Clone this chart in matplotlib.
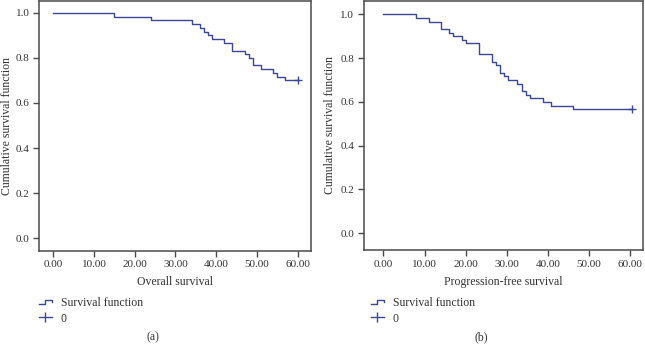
import matplotlib
matplotlib.use("Agg")
import matplotlib.pyplot as plt
from matplotlib.legend_handler import HandlerBase
from matplotlib.lines import Line2D

# --- DATA ---
# Overall survival: event times (months) and cumulative survival after each step
os_times = [0, 15, 24, 34, 36, 37, 38, 39, 42, 44, 47, 48, 49, 51, 54, 55, 57, 60.2]
os_surv = [1.0, 0.983, 0.967, 0.950, 0.933, 0.917, 0.900, 0.883, 0.867, 0.833,
           0.817, 0.800, 0.767, 0.750, 0.733, 0.717, 0.700, 0.700]

# Progression-free survival
pfs_times = [0, 8, 11, 14, 16, 17, 19, 20, 23.3, 26.4, 27.4, 28.4, 29.4, 30.4,
             32.6, 33.6, 34.6, 35.6, 38.7, 40.8, 46, 60.4]
pfs_surv = [1.0, 0.983, 0.967, 0.933, 0.917, 0.900, 0.883, 0.867, 0.817, 0.783,
            0.767, 0.733, 0.717, 0.700, 0.683, 0.650, 0.633, 0.617, 0.600, 0.583,
            0.567, 0.567]

x_ticks = [0, 10, 20, 30, 40, 50, 60]
x_ticklabels = ["0.00", "10.00", "20.00", "30.00", "40.00", "50.00", "60.00"]
y_ticks = [0.0, 0.2, 0.4, 0.6, 0.8, 1.0]
y_ticklabels = ["0.0", "0.2", "0.4", "0.6", "0.8", "1.0"]

LINE = "#3c4696"
SPINE = "#4a4a4a"
TXT = "#333333"
FS_TICK = 8
FS_LAB = 8.5

plt.rcParams["font.family"] = ["Liberation Serif", "DejaVu Serif"]


class StepHandler(HandlerBase):
    # small step glyph used by the "Survival function" legend entry
    def create_artists(self, legend, orig_handle, xdescent, ydescent,
                       width, height, fontsize, trans):
        x0 = -xdescent
        y0 = -ydescent + height * 0.2
        y1 = -ydescent + height * 0.75
        xs = [x0, x0 + width * 0.5, x0 + width * 0.5, x0 + width, x0 + width]
        ys = [y0, y0, y1, y1, y1 - (y1 - y0) * 0.45]
        ln = Line2D(xs, ys, color=LINE, lw=1.0, transform=trans)
        return [ln]


fig = plt.figure(figsize=(6.45, 3.44), dpi=100)

panels = [
    dict(rect=[0.0609, 0.2713, 0.4214, 0.7258], times=os_times, surv=os_surv,
         xlim=(-3.44, 63.3), ylim=(-0.056, 1.053), xlabel="Overall survival",
         ylab_x=-0.097, leg_x=39 / 645, tag="(a)", tag_x=153 / 645),
    dict(rect=[0.5643, 0.2733, 0.4321, 0.7238], times=pfs_times, surv=pfs_surv,
         xlim=(-4.74, 63.07), ylim=(-0.077, 1.061), xlabel="Progression-free survival",
         ylab_x=-0.102, leg_x=371 / 645, tag="(b)", tag_x=481 / 645),
]

for p in panels:
    ax = fig.add_axes(p["rect"])
    ax.step(p["times"], p["surv"], where="post", color=LINE, lw=1.0)
    ax.plot(p["times"][-1], p["surv"][-1], marker="+", color=LINE,
            markersize=6, markeredgewidth=1.0)

    ax.set_xlim(*p["xlim"])
    ax.set_ylim(*p["ylim"])
    ax.set_xticks(x_ticks)
    ax.set_xticklabels(x_ticklabels)
    ax.set_yticks(y_ticks)
    ax.set_yticklabels(y_ticklabels)
    ax.tick_params(direction="out", length=4, width=1.0, color=SPINE,
                   labelsize=FS_TICK, labelcolor=TXT, pad=3)
    for s in ax.spines.values():
        s.set_color(SPINE)
        s.set_linewidth(1.1)

    ax.set_xlabel(p["xlabel"], fontsize=FS_LAB, color=TXT, labelpad=5)
    ax.set_ylabel("Cumulative survival function", fontsize=FS_LAB, color=TXT)
    ax.yaxis.set_label_coords(p["ylab_x"], 0.5)

    h1 = Line2D([], [], color=LINE)
    h2 = Line2D([], [], color=LINE, marker="|", markersize=7, lw=1.0)
    leg = ax.legend([h1, h2], ["Survival function", "0"],
                    handler_map={h1: StepHandler()},
                    loc="upper left", bbox_to_anchor=(p["leg_x"], 1 - 297 / 344),
                    bbox_transform=fig.transFigure, frameon=False,
                    fontsize=FS_LAB, borderpad=0, borderaxespad=0,
                    handlelength=1.1, handletextpad=0.75, labelspacing=0.3)
    for t in leg.get_texts():
        t.set_color(TXT)

    fig.text(p["tag_x"], 1 - 337 / 344, p["tag"], ha="center", va="center",
             fontsize=FS_LAB, color=TXT)

fig.savefig("out.png", dpi=100)
